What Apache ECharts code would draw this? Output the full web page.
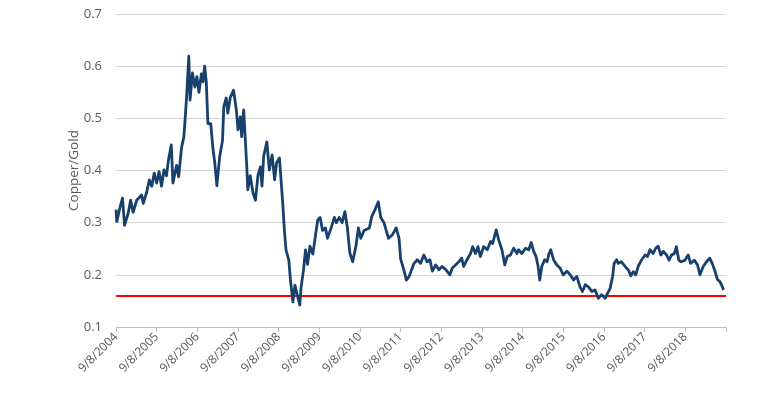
<!DOCTYPE html>
<html>
<head>
<meta charset="utf-8">
<script src="https://cdn.jsdelivr.net/npm/echarts@6/dist/echarts.min.js"></script>
<style>
html,body{margin:0;padding:0;background:#fff;}
#chart{width:780px;height:394px;}
</style>
</head>
<body>
<div id="chart"></div>
<script>
// Years elapsed since 9/8/2004
var yearsSinceStart = [0.00,0.02,0.10,0.16,0.21,0.30,0.36,0.42,0.51,0.63,0.67,0.75,0.82,0.88,0.94,1.00,1.06,1.12,1.18,1.24,1.29,1.36,1.40,1.49,1.54,1.61,1.67,1.72,1.75,1.79,1.82,1.88,1.94,1.99,2.04,2.10,2.14,2.18,2.22,2.26,2.33,2.38,2.43,2.48,2.55,2.62,2.65,2.71,2.75,2.81,2.89,2.96,3.00,3.06,3.09,3.14,3.19,3.22,3.24,3.30,3.37,3.43,3.49,3.55,3.59,3.63,3.71,3.77,3.84,3.90,3.95,4.02,4.06,4.10,4.14,4.18,4.25,4.29,4.35,4.40,4.47,4.52,4.55,4.61,4.66,4.71,4.77,4.84,4.89,4.96,5.02,5.08,5.15,5.20,5.29,5.37,5.42,5.49,5.56,5.63,5.69,5.75,5.82,5.90,5.96,6.02,6.10,6.23,6.29,6.37,6.45,6.51,6.59,6.70,6.80,6.89,6.96,7.00,7.08,7.14,7.21,7.27,7.33,7.41,7.49,7.57,7.65,7.72,7.78,7.86,7.94,8.02,8.11,8.21,8.27,8.35,8.43,8.50,8.55,8.63,8.72,8.77,8.84,8.90,8.96,9.04,9.13,9.21,9.26,9.35,9.41,9.49,9.56,9.62,9.70,9.78,9.86,9.90,9.98,10.07,10.15,10.21,10.27,10.33,10.38,10.42,10.47,10.54,10.60,10.65,10.69,10.76,10.84,10.92,11.00,11.09,11.17,11.25,11.33,11.41,11.47,11.54,11.62,11.70,11.78,11.86,11.94,12.03,12.09,12.15,12.21,12.25,12.31,12.35,12.43,12.52,12.60,12.66,12.72,12.78,12.84,12.92,13.01,13.07,13.13,13.21,13.27,13.33,13.40,13.46,13.54,13.60,13.66,13.73,13.78,13.84,13.90,13.99,14.07,14.13,14.22,14.30,14.36,14.44,14.52,14.60,14.66,14.72,14.79,14.85,14.89,14.94];

// Copper/Gold ratio
var copperGold = [0.325,0.302,0.330,0.347,0.295,0.318,0.343,0.320,0.343,0.353,0.337,0.357,0.382,0.370,0.395,0.376,0.398,0.370,0.401,0.390,0.420,0.449,0.376,0.410,0.388,0.443,0.465,0.522,0.560,0.619,0.535,0.587,0.560,0.580,0.550,0.585,0.570,0.600,0.570,0.490,0.490,0.445,0.414,0.371,0.427,0.458,0.522,0.539,0.510,0.540,0.554,0.516,0.478,0.503,0.465,0.516,0.445,0.401,0.363,0.390,0.357,0.343,0.390,0.407,0.370,0.427,0.455,0.401,0.430,0.382,0.415,0.424,0.380,0.338,0.286,0.248,0.228,0.190,0.148,0.180,0.157,0.142,0.175,0.209,0.248,0.220,0.255,0.240,0.267,0.305,0.310,0.285,0.290,0.270,0.290,0.310,0.300,0.310,0.300,0.321,0.290,0.242,0.225,0.255,0.290,0.270,0.285,0.290,0.312,0.325,0.340,0.310,0.300,0.270,0.277,0.290,0.270,0.230,0.209,0.190,0.197,0.210,0.222,0.229,0.222,0.238,0.225,0.229,0.207,0.219,0.210,0.216,0.210,0.200,0.213,0.219,0.225,0.232,0.216,0.229,0.241,0.254,0.241,0.254,0.235,0.254,0.248,0.264,0.260,0.286,0.267,0.248,0.219,0.235,0.238,0.251,0.241,0.248,0.241,0.251,0.248,0.262,0.245,0.235,0.216,0.190,0.216,0.229,0.225,0.241,0.248,0.229,0.219,0.213,0.200,0.207,0.200,0.190,0.197,0.177,0.168,0.181,0.177,0.168,0.171,0.155,0.162,0.155,0.165,0.174,0.196,0.222,0.229,0.222,0.225,0.216,0.209,0.198,0.206,0.200,0.216,0.228,0.238,0.235,0.248,0.241,0.251,0.255,0.238,0.245,0.238,0.228,0.238,0.241,0.254,0.228,0.225,0.228,0.238,0.222,0.228,0.219,0.200,0.216,0.225,0.232,0.222,0.209,0.191,0.187,0.181,0.171];

var tickLabels = ['9/8/2004','9/8/2005','9/8/2006','9/8/2007','9/8/2008','9/8/2009','9/8/2010','9/8/2011','9/8/2012','9/8/2013','9/8/2014','9/8/2015','9/8/2016','9/8/2017','9/8/2018',''];
var thresholdValue = 0.16;
var yAxisName = 'Copper/Gold';

var seriesData = yearsSinceStart.map(function (t, i) { return [t, copperGold[i]]; });

var chart = echarts.init(document.getElementById('chart'), null, {renderer: 'canvas'});
var fontFam = '"Open Sans", "Noto Sans", sans-serif';
chart.setOption({
  animation: false,
  backgroundColor: '#ffffff',
  grid: {left: 116, right: 54, top: 14, bottom: 67, containLabel: false},
  xAxis: {
    type: 'value',
    min: 0, max: 15, interval: 1,
    axisLine: {show: true, lineStyle: {color: '#bfbfbf', width: 1}},
    axisTick: {show: true, length: 5, lineStyle: {color: '#bfbfbf'}},
    splitLine: {show: false},
    axisLabel: {
      rotate: 45, color: '#595959', fontSize: 12, fontFamily: fontFam, margin: 8,
      formatter: function (v) { return tickLabels[Math.round(v)] || ''; }
    }
  },
  yAxis: {
    type: 'value',
    min: 0.1, max: 0.7, interval: 0.1,
    name: yAxisName, nameLocation: 'middle', nameGap: 35, nameMoveOverlap: false,
    nameTextStyle: {color: '#595959', fontSize: 13.5, fontFamily: fontFam},
    axisLine: {show: false},
    axisTick: {show: false},
    splitLine: {show: true, lineStyle: {color: '#d4d4d4', width: 1}},
    axisLabel: {
      color: '#595959', fontSize: 13, fontFamily: fontFam, margin: 14,
      formatter: function (v) { return (Math.round(v * 10) / 10).toFixed(1); }
    }
  },
  series: [
    {
      type: 'line',
      data: seriesData,
      showSymbol: false,
      symbol: 'none',
      lineStyle: {color: '#17406d', width: 2.8, join: 'round'},
      z: 3,
      markLine: {
        silent: true,
        symbol: ['none', 'none'],
        label: {show: false},
        lineStyle: {color: '#ff0000', width: 2, type: 'solid'},
        data: [{yAxis: thresholdValue}],
        z: 2
      }
    }
  ]
});
</script>
</body>
</html>
